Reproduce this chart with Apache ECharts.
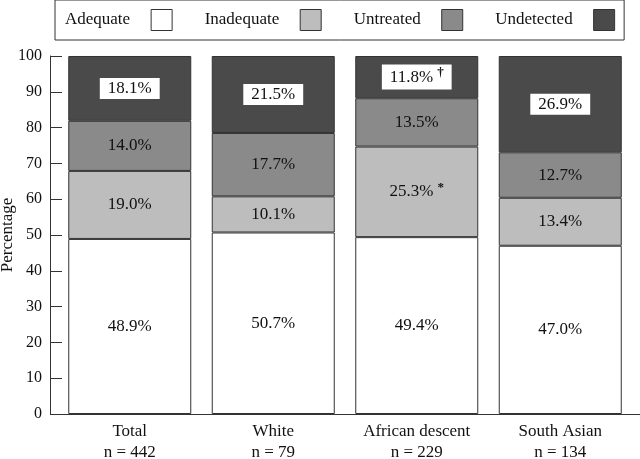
<!DOCTYPE html>
<html>
<head>
<meta charset="utf-8">
<script src="https://cdn.jsdelivr.net/npm/echarts@6/dist/echarts.min.js"></script>
<style>
  html, body { margin: 0; padding: 0; background: #fff; }
  #chart { width: 640px; height: 459px; }
</style>
</head>
<body>
<div id="chart"></div>
<script>
const categories = ['Total', 'White', 'African descent', 'South Asian'];
const sampleSizes = ['n = 442', 'n = 79', 'n = 229', 'n = 134'];

const adequate = [48.9, 50.7, 49.4, 47.0];
const inadequate = [19.0, 10.1, 25.3, 13.4];
const untreated = [14.0, 17.7, 13.5, 12.7];
const undetected = [18.1, 21.5, 11.8, 26.9];

// superscript marks on some labels
const inadequateNotes = ['', '', '*', ''];
const undetectedNotes = ['', '', '†', ''];

const font = 'Liberation Serif';

const chart = echarts.init(document.getElementById('chart'));

const makeSeries = (name, data, color, notes, boxed) => ({
  name: name,
  type: 'bar',
  stack: 'all',
  barWidth: 123,
  data: data,
  itemStyle: { color: color, borderColor: '#333', borderWidth: 1 },
  label: {
    show: true,
    position: 'inside',
    formatter: (p) => {
      let s = '{v|' + p.value.toFixed(1) + '%}';
      if (notes && notes[p.dataIndex]) s += '{s|' + notes[p.dataIndex] + '}';
      return s;
    },
    backgroundColor: boxed ? '#fff' : 'transparent',
    padding: boxed ? [2, 8, 2, 8] : 0,
    rich: {
      v: { fontFamily: font, fontSize: 17, color: '#111' },
      s: { fontFamily: font, fontSize: 13, fontWeight: 'bold', color: '#111', verticalAlign: 'top', padding: [0, 0, 8, 4] }
    }
  },
  emphasis: { disabled: true }
});

chart.setOption({
  animation: false,
  legend: {
    left: 55,
    top: 0,
    align: 'right',
    itemWidth: 21,
    itemHeight: 21,
    itemGap: 32,
    padding: [9, 9, 9, 10],
    borderColor: '#333',
    borderWidth: 1,
    icon: 'rect',
    itemStyle: { borderColor: '#333', borderWidth: 1 },
    textStyle: { fontFamily: font, fontSize: 17, color: '#111', padding: [0, 16, 0, 0] },
    data: ['Adequate', 'Inadequate', 'Untreated', 'Undetected'],
    selectedMode: false
  },
  grid: { left: 58, right: 8, top: 56, bottom: 45, outerBoundsMode: 'none' },
  xAxis: {
    type: 'category',
    data: categories.map((c, i) => c + '\n' + sampleSizes[i]),
    axisLine: { show: false },
    axisTick: { show: false },
    axisLabel: { interval: 0, fontFamily: font, fontSize: 17, color: '#111', lineHeight: 21, margin: 7 }
  },
  yAxis: {
    type: 'value',
    min: 0,
    max: 100,
    interval: 10,
    offset: 8,
    name: 'Percentage',
    nameLocation: 'middle',
    nameGap: 34,
    nameMoveOverlap: false,
    nameTextStyle: { fontFamily: font, fontSize: 17, color: '#111' },
    axisLine: { show: true, lineStyle: { color: '#333' } },
    axisTick: { show: true, inside: true, length: 12, lineStyle: { color: '#333' } },
    axisLabel: { fontFamily: font, fontSize: 16, color: '#111', margin: 8 },
    splitLine: { show: false }
  },
  graphic: [{
    type: 'line',
    z: 100,
    shape: { x1: 50, y1: 414.5, x2: 640, y2: 414.5 },
    style: { stroke: '#333', lineWidth: 1 }
  }],
  series: [
    makeSeries('Adequate', adequate, '#ffffff', null, false),
    makeSeries('Inadequate', inadequate, '#bdbdbd', inadequateNotes, false),
    makeSeries('Untreated', untreated, '#8a8a8a', null, false),
    makeSeries('Undetected', undetected, '#4a4a4a', undetectedNotes, true)
  ]
});
</script>
</body>
</html>
